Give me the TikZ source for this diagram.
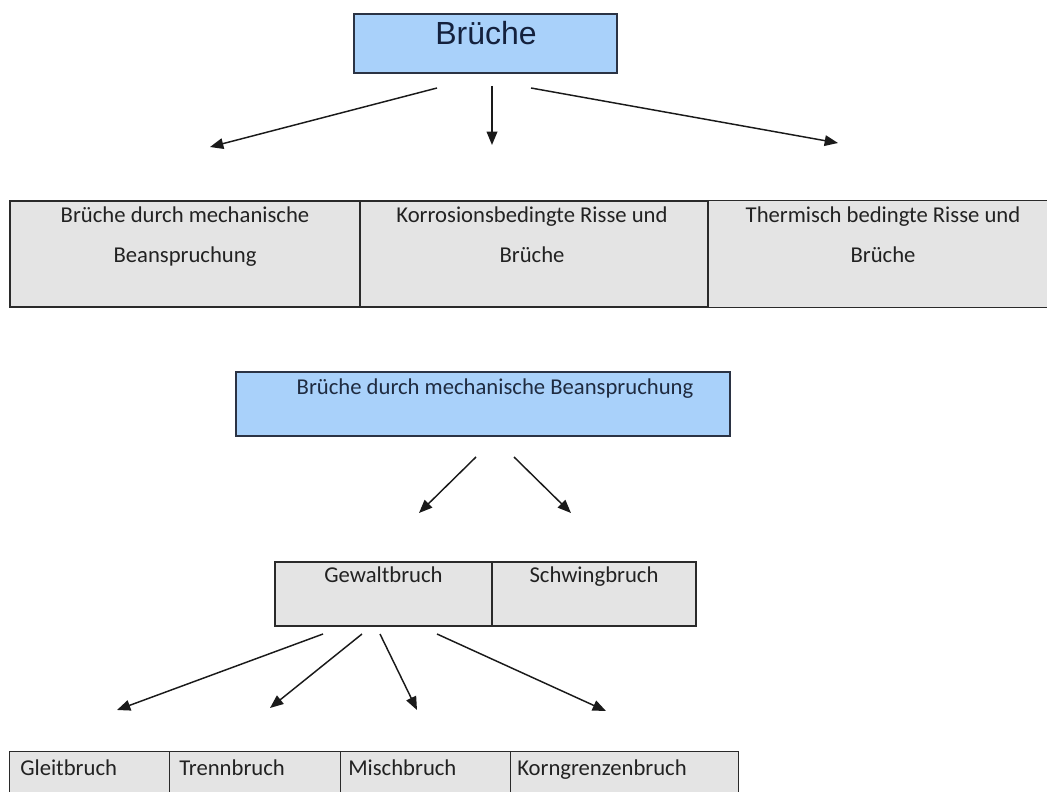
\documentclass[tikz,border=0pt]{standalone}
\usepackage{fontspec}
\setmainfont{Carlito}
\newfontfamily\arialfont{Liberation Sans}
\usetikzlibrary{arrows.meta,fit}
\definecolor{boxblue}{HTML}{A9D1FA}
\definecolor{boxline}{HTML}{2B3344}
\definecolor{cellgrey}{HTML}{E4E4E4}
\definecolor{cellline}{HTML}{2A2A2A}
\definecolor{txt}{HTML}{222222}
\definecolor{navy}{HTML}{14213D}
\definecolor{navytxt}{HTML}{1F2B40}
\definecolor{arrowc}{HTML}{1A1A1A}
\begin{document}
\begin{tikzpicture}[x=0.75pt,y=-0.75pt,
  bluebox/.style={draw=boxline,line width=1.1pt,fill=boxblue,inner sep=0pt},
  cell/.style={draw=cellline,line width=1.1pt,fill=cellgrey,inner sep=0pt},
  openfill/.style={draw=none,fill=cellgrey,inner sep=0pt},
  border/.style={draw=cellline,line width=1.1pt},
  celltext/.style={font=\fontsize{17}{20}\selectfont,text=txt,inner sep=0pt},
  arr/.style={draw=arrowc,line width=1.1pt,-{Triangle[length=10pt,width=8pt]}}]
\useasboundingbox (0,0) rectangle (1047,792);

% ---- top box
\node[bluebox, fit={(354,14)(617,73)}] (top) {};
\node[font=\arialfont\fontsize{24}{26}\selectfont, text=navy, anchor=base, inner sep=0pt] (toplbl) at (486,45) {Brüche};

% ---- arrows from top box
\coordinate (a1s) at (437,88);  \coordinate (a1e) at (210,147);
\coordinate (a2s) at (492,86);  \coordinate (a2e) at (492,145);
\coordinate (a3s) at (531,88);  \coordinate (a3e) at (838,143);
\draw[arr] (a1s) -- (a1e);
\draw[arr] (a2s) -- (a2e);
\draw[arr] (a3s) -- (a3e);

% ---- first table
\node[cell, fit={(10,201)(360,307)}] (c11) {};
\node[cell, fit={(360,201)(708,307)}] (c12) {};
\node[openfill, fit={(708,201)(1047,307)}] (c13) {};
\draw[border] (c13.north west) -- (c13.north east);
\draw[border] (c13.south west) -- (c13.south east);
\draw[border] (c12.north east) -- (c12.south east);
\node[celltext, anchor=base] (t11a) at (185,222) {Brüche durch mechanische};
\node[celltext, anchor=base] (t11b) at (185,262) {Beanspruchung};
\node[celltext, anchor=base] (t12a) at (532,222) {Korrosionsbedingte Risse und};
\node[celltext, anchor=base] (t12b) at (532,262) {Brüche};
\node[celltext, anchor=base] (t13a) at (883,222) {Thermisch bedingte Risse und};
\node[celltext, anchor=base] (t13b) at (883,262) {Brüche};

% ---- second blue box
\node[bluebox, fit={(236,372)(730,436)}] (mech) {};
\node[celltext, text=navytxt, anchor=base] (mechlbl) at (495,394) {Brüche durch mechanische Beanspruchung};

\coordinate (b1s) at (476,457); \coordinate (b1e) at (419,513);
\coordinate (b2s) at (514,457); \coordinate (b2e) at (571,513);
\draw[arr] (b1s) -- (b1e);
\draw[arr] (b2s) -- (b2e);

% ---- second table
\node[cell, fit={(275,562)(492,626)}] (c21) {};
\node[cell, fit={(492,562)(696,626)}] (c22) {};
\node[celltext, anchor=base] (t21) at (383.5,582) {Gewaltbruch};
\node[celltext, anchor=base] (t22) at (594,582) {Schwingbruch};

\coordinate (d1s) at (323,634); \coordinate (d1e) at (117,710);
\coordinate (d2s) at (362,634); \coordinate (d2e) at (270,708);
\coordinate (d3s) at (380,634); \coordinate (d3e) at (417,710);
\coordinate (d4s) at (437,634); \coordinate (d4e) at (606,711);
\draw[arr] (d1s) -- (d1e);
\draw[arr] (d2s) -- (d2e);
\draw[arr] (d3s) -- (d3e);
\draw[arr] (d4s) -- (d4e);

% ---- third table (continues below the picture)
\node[openfill, fit={(10,752)(169,792)}] (c31) {};
\node[openfill, fit={(169,752)(340,792)}] (c32) {};
\node[openfill, fit={(340,752)(510,792)}] (c33) {};
\node[openfill, fit={(510,752)(738,792)}] (c34) {};
\draw[border] (c31.south west) -- (c31.north west) -- (c34.north east) -- (c34.south east);
\draw[border] (c31.north east) -- (c31.south east);
\draw[border] (c32.north east) -- (c32.south east);
\draw[border] (c33.north east) -- (c33.south east);
\node[celltext, anchor=base west] (t31) at (20,775) {Gleitbruch};
\node[celltext, anchor=base west] (t32) at (179,775) {Trennbruch};
\node[celltext, anchor=base west] (t33) at (348,775) {Mischbruch};
\node[celltext, anchor=base west] (t34) at (517,775) {Korngrenzenbruch};
\end{tikzpicture}
\end{document}
